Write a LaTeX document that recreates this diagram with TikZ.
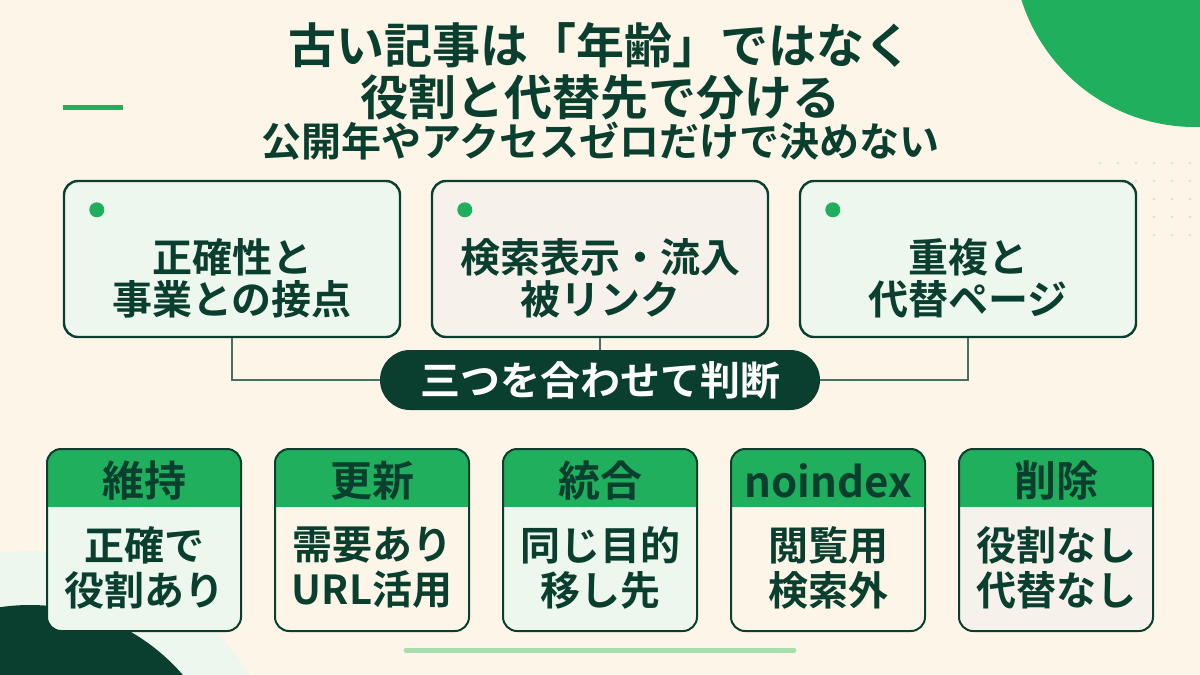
\documentclass[tikz,border=0pt]{standalone}
\usepackage{fontspec}
\setmainfont{Noto Sans CJK JP}[BoldFont={Noto Sans CJK JP Bold}]
\definecolor{cream}{HTML}{FDF6E8}
\definecolor{ink}{HTML}{0A3F2F}
\definecolor{leaf}{HTML}{20B05D}
\definecolor{mint}{HTML}{EDF7EE}
\definecolor{blush}{HTML}{F7F1EC}
\definecolor{pale}{HTML}{A8DDB0}
\begin{document}
\begin{tikzpicture}[x=0.5pt,y=-0.5pt,
    topbox/.style={draw=ink, line width=1.2pt, rounded corners=7pt, minimum width=168pt, minimum height=78pt},
    toptext/.style={align=center, font=\bfseries\fontsize{20}{21}\selectfont, text=ink},
    card/.style={draw=ink, line width=1pt, rounded corners=7pt, minimum width=96pt, minimum height=90pt},
    cardhead/.style={font=\bfseries\fontsize{21}{22}\selectfont, text=ink},
    cardbody/.style={align=center, font=\bfseries\fontsize{20}{22.5}\selectfont, text=ink},
    dot/.style={circle, fill=leaf, inner sep=0pt, minimum size=7.5pt}]
    % Background and decorations
    \fill[cream] (0,0) rectangle (1200,675);
    \useasboundingbox (0,0) rectangle (1200,675);
    \fill[leaf] (1195,-55) circle (182);
    \fill[mint] (30,807) circle (256);
    \fill[ink] (30,807) circle (202);
    \foreach \x in {1100,1118,...,1190} {
        \foreach \y in {163,181,...,240} {
            \fill[pale!60] (\x,\y) circle (1.3);
        }
    }
    \draw[leaf, line width=2.5pt] (63,107) -- (123,107);
    \draw[pale, line width=2.5pt, line cap=round] (406,650) -- (794,650);

    % Title
    \node[text=ink, font=\bfseries\fontsize{24}{26}\selectfont, align=center] (title) at (600,71) {古い記事は「年齢」ではなく\\役割と代替先で分ける};
    \node[text=ink, font=\bfseries\fontsize{20}{22}\selectfont] (sub) at (600,141) {公開年やアクセスゼロだけで決めない};

    % Top boxes
    \foreach \b/\x/\txt/\col in {acc/232/正確性と\\事業との接点/mint,
        seo/600/検索表示・流入\\被リンク/blush,
        dup/968/重複と\\代替ページ/mint} {
        \node[topbox, fill=\col] (\b) at (\x,259) {};
        \node[toptext] (\b-t) at (\x,278) {\txt};
        \node[dot] at ([xshift=17pt,yshift=-15pt]\b.north west) {};
    }

    % Join into the pill
    \node[fill=ink, rounded corners=15pt, minimum width=220pt, minimum height=30pt, text=white, font=\bfseries\fontsize{20}{22}\selectfont] (judge) at (600,380) {三つを合わせて判断};
    \draw[ink!75, line width=1pt] (acc.south) |- (judge.west);
    \draw[ink!75, line width=1pt] (dup.south) |- (judge.east);
    \draw[ink!75, line width=1pt] (seo.south) -- (judge.north);

    % Action cards
    \foreach \i/\x/\head/\body/\col in {
        keep/144/維持/正確で\\役割あり/mint,
        upd/372/更新/需要あり\\URL活用/cream,
        merge/600/統合/同じ目的\\移し先/mint,
        noidx/828/noindex/閲覧用\\検索外/cream,
        del/1056/削除/役割なし\\代替なし/blush} {
        \node[card] (\i) at (\x,540) {};
        \begin{scope}
            \clip[rounded corners=7pt] (\i.north west) rectangle (\i.south east);
            \fill[\col] (\i.north west) rectangle (\i.south east);
            \fill[leaf] (\i.north west) rectangle ([yshift=-29pt]\i.north east);
        \end{scope}
        \draw[ink, line width=1pt, rounded corners=7pt] (\i.north west) rectangle (\i.south east);
        \node[cardhead] (\i-h) at (\x,481) {\head};
        \node[cardbody] (\i-b) at (\x,568) {\body};
    }
\end{tikzpicture}
\end{document}
